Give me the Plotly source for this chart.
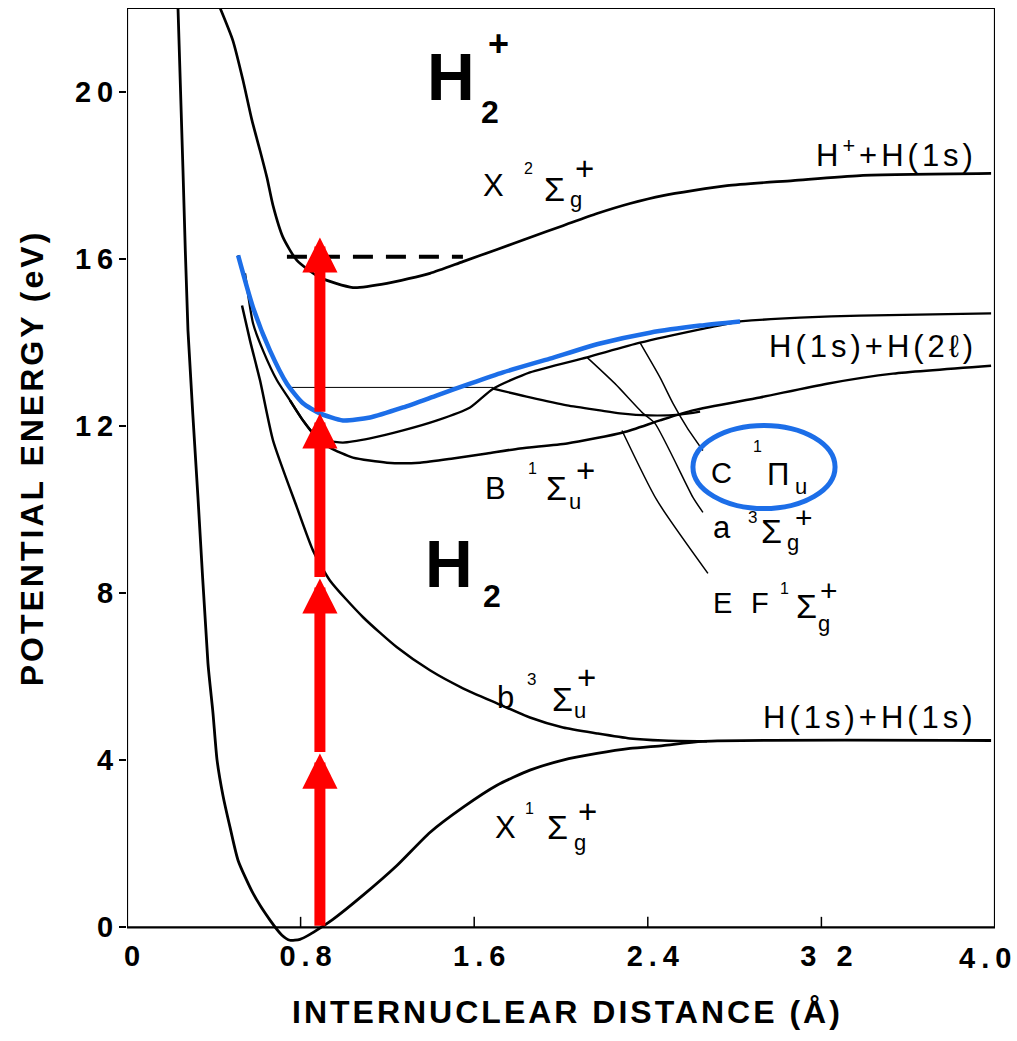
import plotly.graph_objects as go

# ---------------- data: internuclear distance (Å) / potential energy (eV) ----------------
# H2 ground state X 1Σg+
X1_r = [0.235, 0.258, 0.281, 0.327, 0.373, 0.396, 0.415, 0.442, 0.475, 0.512, 0.581, 0.659,
        0.714, 0.751, 0.797, 0.843, 0.889, 0.949, 1.088, 1.244, 1.396, 1.548, 1.705, 1.857,
        2.009, 2.166, 2.318, 2.470, 2.654, 3.982]
X1_E = [22.0, 18.11, 14.28, 10.29, 6.32, 5.14, 4.00, 3.16, 2.39, 1.60, 0.81, 0.17,
        -0.19, -0.31, -0.29, -0.17, -0.02, 0.19, 0.77, 1.48, 2.27, 2.87, 3.40, 3.76,
        4.00, 4.16, 4.28, 4.35, 4.45, 4.47]

# H2 repulsive b 3Σu+
b_r = [0.530, 0.567, 0.613, 0.673, 0.783, 0.857, 0.935, 1.088, 1.244, 1.396, 1.548, 1.705,
       1.857, 2.009, 2.166, 2.318, 2.470, 2.673]
b_E = [14.88, 14.04, 13.09, 11.65, 10.05, 9.02, 8.30, 7.42, 6.70, 6.15, 5.72, 5.36,
       5.02, 4.78, 4.64, 4.52, 4.47, 4.45]

# H2+ ground state X 2Σg+
ion_r = [0.429, 0.488, 0.535, 0.576, 0.613, 0.645, 0.673, 0.719, 0.783, 0.889, 1.041, 1.198,
         1.396, 1.548, 1.705, 1.857, 2.009, 2.166, 2.318, 2.470, 2.765, 3.069, 3.378, 3.982]
ion_E = [22.0, 21.22, 20.26, 19.31, 18.59, 17.94, 17.27, 16.51, 15.96, 15.55, 15.31, 15.41,
         15.65, 15.93, 16.22, 16.51, 16.79, 17.08, 17.32, 17.51, 17.75, 17.87, 17.99, 18.04]

# C 1Πu (highlighted in blue up to C_highlight_max)
C_r = [0.512, 0.581, 0.659, 0.737, 0.811, 0.889, 0.995, 1.120, 1.272, 1.429, 1.581, 1.733,
       1.949, 2.180, 2.410, 2.641, 2.825, 3.101, 3.378, 3.982]
C_E = [16.08, 14.83, 13.80, 13.01, 12.54, 12.30, 12.13, 12.20, 12.44, 12.73, 13.01, 13.28,
       13.61, 13.97, 14.23, 14.40, 14.50, 14.59, 14.64, 14.69]
C_highlight_max = 2.83

# inner curve (E / a states) joining H(1s)+H(2l)
A_r = [0.544, 0.581, 0.627, 0.691, 0.751, 0.811, 0.857, 0.922, 0.995, 1.120, 1.272, 1.429,
       1.581, 1.687, 1.857, 2.120, 2.364, 2.641, 2.825]
A_E = [15.65, 14.45, 13.80, 13.09, 12.61, 12.13, 11.84, 11.65, 11.60, 11.70, 11.89, 12.13,
       12.44, 12.89, 13.28, 13.64, 13.99, 14.31, 14.50]

# B 1Σu+
B_r = [0.751, 0.811, 0.866, 0.935, 1.041, 1.198, 1.350, 1.502, 1.659, 1.811, 2.028, 2.286,
       2.456, 2.608, 2.917, 3.226, 3.530, 3.982]
B_E = [12.61, 12.13, 11.77, 11.48, 11.24, 11.12, 11.12, 11.22, 11.34, 11.46, 11.58, 11.84,
       12.13, 12.37, 12.68, 13.01, 13.25, 13.44]

# outer (F) well of EF 1Σg+
F_r = [1.687, 1.857, 2.028, 2.180, 2.272, 2.410, 2.548, 2.641]
F_E = [12.89, 12.68, 12.49, 12.37, 12.30, 12.25, 12.27, 12.34]

# label leader lines
lead_a_r = [2.120, 2.249, 2.378, 2.433, 2.608, 2.654]
lead_a_E = [13.64, 13.01, 12.30, 12.06, 10.29, 9.93]
lead_C_r = [2.364, 2.456, 2.516, 2.581, 2.654]
lead_C_E = [13.99, 13.16, 12.54, 11.96, 11.41]
lead_EF_r = [2.281, 2.442, 2.677]
lead_EF_E = [11.89, 10.22, 8.47]

# thin level line and dashed ionisation level
level_r = [0.760, 1.687]
level_E = [12.92, 12.92]
ionlvl_r = [0.737, 1.548]
ionlvl_E = [16.05, 16.05]

# multiphoton excitation (four photons)
photon_r = 0.889
photon_tips = [4.16, 8.35, 12.30, 16.51]

# axes
x_ticks = [0, 0.8, 1.6, 2.4, 3.2, 4.0]
x_ticktext = ["0", "0.8", "1.6", "2.4", "3 2", "4.0"]
y_ticks = [0, 4, 8, 12, 16, 20]
x_range = [0, 4.0]
y_range = [-0.4, 22]

BLUE = "#1C6EE8"
RED = "#FF0000"
FONT = "Liberation Sans"

fig = go.Figure()


def curve(r, e, width=2.6, color="black", dash=None, shape="spline"):
    fig.add_trace(go.Scatter(x=r, y=e, mode="lines",
                             line=dict(color=color, width=width, dash=dash, shape=shape,
                                       smoothing=0.6 if shape == "spline" else None),
                             hoverinfo="skip", showlegend=False))


curve(X1_r, X1_E, 2.8)
curve(b_r, b_E, 2.5)
curve(ion_r, ion_E, 2.7)
curve(B_r, B_E, 2.5)
curve(F_r, F_E, 2.2)
curve(A_r, A_E, 2.3)
curve(C_r, C_E, 2.3)
curve(level_r, level_E, 1.0, shape="linear")
curve(lead_a_r, lead_a_E, 1.5)
curve(lead_C_r, lead_C_E, 1.5)
curve(lead_EF_r, lead_EF_E, 1.5)
curve(ionlvl_r, ionlvl_E, 4, dash="20px,13px", shape="linear")

hl_r = [r for r in C_r if r <= C_highlight_max]
hl_E = C_E[:len(hl_r)]
curve(hl_r, hl_E, 4.5, color=BLUE)

# small inward ticks on the bottom frame
tx, ty = [], []
for t in x_ticks[1:-1]:
    tx += [t, t, None]
    ty += [0, 0.25, None]
fig.add_trace(go.Scatter(x=tx, y=ty, mode="lines", line=dict(color="black", width=1.5),
                         hoverinfo="skip", showlegend=False))

annotations = []

# photon arrows
starts = [0] + photon_tips[:-1]
for s, t in zip(starts, photon_tips):
    annotations.append(dict(x=photon_r, y=t, ax=photon_r, ay=s, xref="x", yref="y",
                            axref="x", ayref="y", text="", showarrow=True, arrowhead=2,
                            arrowsize=0.64, arrowwidth=11, arrowcolor=RED, standoff=0))


def lab(text, x, y, size, bold=False, xanchor="center", spacing=None):
    if bold:
        text = "<b>" + text + "</b>"
    if spacing:
        text = "<span style='letter-spacing:%dpx'>%s</span>" % (spacing, text)
    annotations.append(dict(x=x, y=y, xref="x", yref="y", text=text, showarrow=False,
                            xanchor=xanchor, yanchor="middle",
                            font=dict(family=FONT, size=size, color="black")))


# molecule labels
lab("H", 1.495, 20.35, 66, True)
lab("2", 1.673, 19.51, 32, True)
lab("+", 1.712, 21.14, 36, True)
lab("H", 1.482, 8.70, 66, True)
lab("2", 1.680, 7.94, 32, True)

# state labels: letter, multiplicity, Σ/Π, g/u subscript, plus
state_parts = [
    # H2+ X 2Σg+
    [("X", 1.691, 17.75, 31), ("2", 1.848, 18.16, 16), ("Σ", 1.972, 17.67, 34),
     ("g", 2.071, 17.41, 22), ("+", 2.106, 18.15, 33)],
    # B 1Σu+
    [("B", 1.696, 10.51, 31), ("1", 1.869, 10.98, 16), ("Σ", 1.977, 10.51, 34),
     ("u", 2.065, 10.19, 22), ("+", 2.115, 10.93, 33)],
    # b 3Σu+
    [("b", 1.742, 5.50, 31), ("3", 1.866, 5.93, 17), ("Σ", 2.005, 5.47, 34),
     ("u", 2.088, 5.18, 22), ("+", 2.118, 5.98, 33)],
    # X 1Σg+
    [("X", 1.742, 2.39, 31), ("1", 1.857, 2.85, 16), ("Σ", 1.986, 2.40, 34),
     ("g", 2.088, 2.03, 22), ("+", 2.122, 2.76, 33)],
    # a 3Σg+
    [("a", 2.744, 9.57, 31), ("3", 2.882, 9.81, 17), ("Σ", 2.972, 9.49, 34),
     ("g", 3.071, 9.20, 22), ("+", 3.120, 9.80, 30)],
    # EF 1Σg+
    [("E", 2.744, 7.75, 29), ("F", 2.917, 7.75, 29), ("1", 3.032, 8.11, 16),
     ("Σ", 3.131, 7.70, 34), ("g", 3.214, 7.28, 22), ("+", 3.237, 8.05, 30)],
    # C 1Πu
    [("C", 2.740, 10.86, 29), ("1", 2.906, 11.50, 16), ("Π", 3.002, 10.84, 31),
     ("u", 3.108, 10.54, 22)],
]
for parts in state_parts:
    for t, x, y, s in parts:
        lab(t, x, y, s)

# dissociation limits
lab("H<sup>+</sup>+H(1s)", 3.925, 18.54, 31, xanchor="right", spacing=4)
lab("H(1s)+H(2ℓ)", 3.925, 13.90, 31, xanchor="right", spacing=4)
lab("H(1s)+H(1s)", 3.925, 5.02, 31, xanchor="right", spacing=4)

# axis titles
annotations.append(dict(x=-0.1094, y=0.519, xref="paper", yref="paper", textangle=-90,
                        text="<span style='letter-spacing:3px'><b>POTENTIAL ENERGY (eV)</b></span>",
                        showarrow=False, xanchor="center", yanchor="middle",
                        font=dict(family=FONT, size=32, color="black")))
annotations.append(dict(x=0.507, y=-0.0726, xref="paper", yref="paper",
                        text="<span style='letter-spacing:3px'><b>INTERNUCLEAR DISTANCE (Å)</b></span>",
                        showarrow=False, xanchor="center", yanchor="middle",
                        font=dict(family=FONT, size=32, color="black")))

shapes = [
    dict(type="rect", xref="x", yref="y", x0=x_range[0], x1=x_range[1], y0=0, y1=22,
         line=dict(color="black", width=2.2), layer="below"),
    dict(type="circle", xref="x", yref="y", x0=2.608, x1=3.263, y0=10.02, y1=12.01,
         line=dict(color=BLUE, width=5)),
]


def spaced(t, px=6):
    # widen all but the last glyph, so labels stay anchored on their ink
    if len(t) < 2:
        return "<b>%s</b>" % t
    return "<b><span style='letter-spacing:%dpx'>%s</span>%s</b>" % (px, t[:-1], t[-1])


# the last x tick label sits inside the frame corner, drawn as its own text
x_ticktext_axis = [spaced(t) for t in x_ticktext[:-1]] + [""]
annotations.append(dict(x=x_ticks[-1], y=0, xref="x", yref="y", text=spaced(x_ticktext[-1]),
                        showarrow=False, xanchor="center", yanchor="middle",
                        xshift=-10, yshift=-31,
                        font=dict(family=FONT, size=29, color="black")))

fig.update_layout(
    width=1017, height=1041,
    margin=dict(l=127, r=22, t=8, b=97, autoexpand=False),
    paper_bgcolor="white", plot_bgcolor="white",
    showlegend=False, hovermode=False,
    annotations=annotations, shapes=shapes,
    xaxis=dict(range=x_range, showgrid=False, zeroline=False, showline=False,
               automargin=False,
               tickmode="array", tickvals=x_ticks, ticktext=x_ticktext_axis,
               ticks="", ticklabelshift=5, ticklabelstandoff=-8,
               tickfont=dict(family=FONT, size=29, color="black")),
    yaxis=dict(range=y_range, showgrid=False, zeroline=False, showline=False,
               automargin=False,
               tickmode="array", tickvals=y_ticks, ticktext=[spaced(str(t)) for t in y_ticks],
               ticks="outside", ticklen=7, tickwidth=2, tickcolor="black",
               tickfont=dict(family=FONT, size=29, color="black")),
)

fig.write_html("out.html")
